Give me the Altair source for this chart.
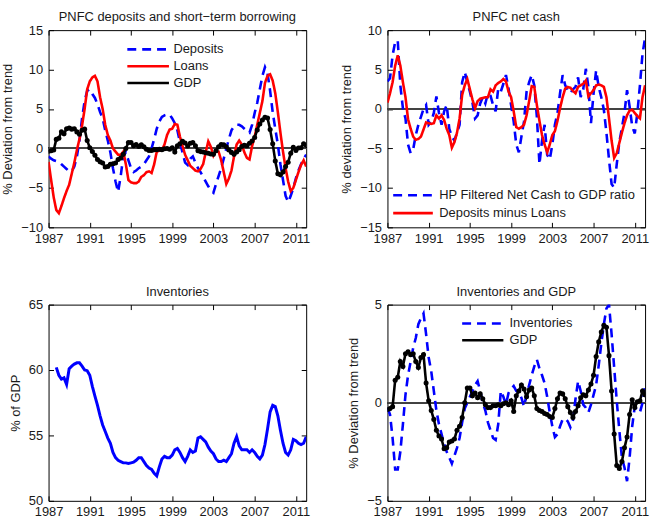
import altair as alt
import pandas as pd

# ---------------- data (quarterly, 1987Q1 .. 2012Q1) ----------------
quarter_years = [1987 + q / 4 for q in range(101)]
tick_years = [1987, 1991, 1995, 1999, 2003, 2007, 2011]

gdp_dev = [
    -0.35, -0.3, -0.2, 1.15,
    1.3, 2.1, 1.85, 2.5,
    2.6, 2.45, 2.5, 2.1,
    1.8, 2.3, 2.45, 1.0,
    0.1, -0.4, -0.85, -1.4,
    -1.7, -1.85, -2.35, -2.3,
    -2.0, -1.95, -1.85, -1.4,
    -1.2, -0.75, 0.0, 0.75,
    0.75, 0.35, 0.5, 0.25,
    0.45, 0.2, -0.1, -0.25,
    -0.25, -0.15, -0.15, -0.1,
    -0.15, -0.05, 0.0, -0.1,
    0.1, -0.45, 0.35, 0.6,
    0.9, 0.7, 0.3, 0.65,
    0.75, 0.35, -0.3, -0.4,
    -0.45, -0.55, -0.6, -0.7,
    -0.75, -0.3, 0.2, 0.5,
    0.45, 0.2, -0.2, -0.5,
    -0.75, -0.45, -0.15, 0.25,
    0.4, 0.35, 0.65, 0.95,
    1.4, 2.35, 3.1, 3.6,
    3.95, 3.85, 2.4, 0.6,
    -1.6, -3.2, -3.35, -3.0,
    -2.3, -1.75, -0.6, 0.15,
    -0.25, 0.05, 0.1, 0.6,
    0.4,
]

deposits_dev = [
    -1.0, -1.3, -1.5, -1.6,
    -1.7, -2.0, -2.3, -2.6,
    -2.9, -2.9, -2.3, -1.0,
    1.0, 3.8, 6.0, 7.3,
    7.5, 6.9, 6.4, 5.6,
    4.6, 3.8, 2.3, 1.0,
    -0.5, -2.5, -4.2, -5.5,
    -3.5, -1.0, -0.5, -1.5,
    -2.5, -3.0, -2.8, -2.5,
    -2.3, -2.0, -1.5, -1.0,
    0.0, 1.2, 2.5, 3.4,
    4.0, 4.2, 4.3, 4.3,
    3.8, 3.2, 2.3, 0.8,
    -0.5, -1.8, -2.1, -1.3,
    -1.0, -1.8, -2.5, -3.0,
    -3.6, -4.2, -4.8, -5.3,
    -5.6, -4.5, -3.5, -2.5,
    -1.3, 0.0, 1.2, 2.3,
    2.8, 3.0, 3.0, 2.8,
    2.5, 2.2, 2.0, 3.0,
    4.5, 5.8, 7.5, 9.2,
    10.3, 9.5, 7.3, 4.6,
    2.5, 0.5, -2.0, -4.0,
    -6.0, -6.8, -6.0, -5.0,
    -3.8, -2.8, -2.0, -1.3,
    -0.8,
]

loans_dev = [
    -1.7, -4.0, -6.2, -7.8,
    -8.2, -7.3, -6.3, -5.4,
    -4.6, -3.2, -1.8, -0.2,
    1.2, 2.9, 5.0, 7.5,
    8.5, 9.0, 9.2, 8.5,
    6.5, 5.0, 3.0, 1.7,
    1.0, 0.0, -0.4, -0.8,
    -0.8, -0.4, -2.0, -4.0,
    -4.3, -4.4, -4.4, -4.2,
    -3.6, -3.4, -3.0, -2.9,
    -3.1, -2.0, -0.4, -0.3,
    -0.2, 0.5, 1.7, 2.4,
    2.5, 3.1, 3.0, 1.5,
    0.3, -0.8, -1.5, -2.2,
    -2.5, -2.8, -2.9, -2.6,
    -2.0, -0.5, 0.9, 0.2,
    -0.9, -0.3, -0.4, -1.5,
    -3.0, -4.5, -3.8, -2.8,
    -1.0, 0.5, 1.0, 0.5,
    -0.5, -1.2, -1.4, 0.3,
    1.5, 3.0, 4.5, 6.0,
    8.3, 9.2, 9.4, 8.6,
    7.0, 4.6, 2.0, -0.4,
    -2.5, -4.2, -5.4, -5.0,
    -4.0, -3.0, -2.1, -1.5,
    -2.3,
]

net_cash_hp = [
    3.5, 3.9, 6.8, 8.5,
    8.7, 3.0, 0.1, -1.2,
    -4.5, -5.6, -5.1, -3.3,
    -2.0, -1.0, 0.0, 0.5,
    -2.0, -1.6, -0.5, 1.6,
    -0.5, -2.0, -0.3, 0.5,
    -2.5, -3.5, -4.0, -3.0,
    -2.0, 3.4, 4.7, 3.4,
    2.2, 0.8, -1.2, -0.8,
    0.7, 1.5, 0.7, 2.0,
    1.7, 0.5, -0.3, 2.6,
    2.2, 3.2, 4.3, 2.6,
    0.5, -1.6, -4.5, -5.5,
    -3.5, -1.6, 2.2, 3.4,
    4.3, 3.0, -1.0, -7.0,
    -4.0, -2.0, -5.8, -6.4,
    -4.5, -2.0, -0.5, 2.0,
    4.3, 3.0, 2.4, 2.0,
    2.5, 2.8, 4.0, 1.5,
    2.5, 5.1, 2.8, -1.8,
    2.0, 4.9, 2.8, 1.5,
    -0.1, -3.0, -6.4, -9.5,
    -10.0, -7.0, -4.2, -2.4,
    -0.5, 2.4, 0.3, -2.2,
    -3.1, -0.5, 3.0, 7.0,
    9.0,
]

deposits_minus_loans = [
    0.8, 2.0, 3.4, 5.5,
    6.8, 5.5, 3.4, 1.5,
    -1.3, -2.5, -3.5, -3.9,
    -3.8, -3.5, -2.6, -1.7,
    -1.8, -1.9, -1.8, -0.8,
    -1.2, -0.8, -1.4, -2.5,
    -3.3, -4.9, -4.2, -3.0,
    -1.2, 1.8, 3.0, 3.8,
    2.5, 1.2, 0.1, 1.0,
    1.3, 1.4, 1.5, 1.5,
    2.5, 2.2, 3.0, 3.3,
    3.5, 3.8, 3.5, 2.2,
    1.5, -0.3, -2.3, -2.5,
    -2.3, -2.0, -0.8, 1.0,
    2.9, 2.8, 0.5, -1.5,
    -3.3, -4.5, -5.5, -4.5,
    -3.3, -2.8, -1.5, 0.1,
    1.5, 2.6, 2.8, 2.7,
    2.3, 2.0, 2.8, 3.0,
    3.2, 3.6, 1.6, 2.0,
    2.4, 3.0, 3.1, 3.0,
    2.8, 1.5, -1.2, -4.0,
    -6.2, -5.6, -4.3, -3.0,
    -1.8, -0.8, -0.2, -0.1,
    -0.5, -0.9, -1.2, 1.5,
    3.0,
]

# inventories as % of GDP, from 1987Q4
inventories_pct_gdp = [
    60.2,
    59.6, 59.3, 59.4, 58.9,
    60.1, 60.3, 60.45, 60.55,
    60.55, 60.3, 60.0, 59.95,
    59.6, 58.75, 58.0, 57.3,
    56.5, 55.8, 55.3, 54.8,
    54.4, 53.7, 53.3, 53.1,
    53.0, 52.9, 52.9, 52.85,
    52.9, 52.95, 53.1, 53.3,
    53.3, 53.0, 52.7, 52.5,
    52.4, 52.1, 51.9, 52.6,
    53.2, 53.4, 53.3, 53.3,
    53.5, 53.9, 54.0, 53.7,
    53.3, 53.0, 53.4, 53.9,
    53.7, 53.8, 54.8, 54.9,
    54.7, 54.5, 54.1, 53.8,
    53.6, 53.2, 53.0, 53.0,
    53.1, 53.0, 53.3, 53.6,
    54.4, 54.9, 54.2, 53.9,
    53.9, 53.9, 53.7, 53.9,
    53.7, 53.4, 53.2, 53.5,
    54.3, 55.5, 56.8, 57.3,
    57.2, 56.5, 55.4, 54.4,
    53.7, 53.5, 53.9, 54.7,
    54.6, 54.4, 54.3, 54.4,
    54.9,
]

inventories_dev = [
    -0.25, -0.6, -1.8, -3.4,
    -3.4, -2.5, -1.1, 0.4,
    1.4, 2.1, 2.8, 3.3,
    4.0, 4.3, 4.55, 3.5,
    2.3, 1.6, 0.6, -0.4,
    -1.1, -1.6, -2.1, -2.5,
    -2.8, -3.1, -2.7, -2.3,
    -1.8, -1.0, -0.3, 0.0,
    0.3, 0.6, 0.9, 1.1,
    0.6, 0.0, -0.4, -1.0,
    -1.4, -1.8, -1.9, -1.1,
    0.6, 0.3, -0.1, 0.5,
    0.7, 0.85, 0.6, 0.5,
    0.25, -0.2, 0.4, 0.9,
    1.4, 1.85, 2.2, 1.75,
    1.4, 1.0, 0.3, -0.5,
    -1.2, -1.75, -1.6, -1.2,
    -0.85, -0.8, -0.95, -1.25,
    -0.9, 0.2, 1.1, 0.6,
    -0.1, -0.25, -0.5, -0.1,
    0.4, 0.9, 1.9, 3.0,
    4.0, 4.8, 5.0, 3.5,
    1.8, 0.1, -1.4, -2.8,
    -3.3, -4.0, -2.8, -1.2,
    -0.2, -0.4, -0.5, 0.0,
    0.9,
]

# ---------------- styling ----------------
FONT = "Liberation Sans"
TXT = "#1a1a1a"
BLUE = "#0000FF"
RED = "#FF0000"
BLACK = "#000000"
DASH = [9, 6]
W = 260

xscale = alt.Scale(domain=[1987, 2012], nice=False, zero=False)


def x_axis_main():
    return alt.Axis(orient="bottom", values=tick_years, format="d", title=None,
                    domain=False, grid=False, ticks=True, tickSize=5, offset=-5,
                    tickColor="black", labelPadding=5, labelFlush=False)


def y_axis_main(vals, title):
    return alt.Axis(orient="left", values=vals, format="d", title=title,
                    domain=False, grid=False, ticks=True, tickSize=5, offset=-5,
                    tickColor="black", labelPadding=6, titlePadding=6)


def frame_layer(df, yscale, yvals):
    return alt.Chart(df).mark_line(opacity=0).encode(
        x=alt.X("year:Q", scale=xscale,
                axis=alt.Axis(orient="top", values=tick_years, labels=False, title=None,
                              domain=False, grid=False, tickSize=5, offset=-5,
                              tickColor="black", minExtent=0)),
        y=alt.Y("value:Q", scale=yscale,
                axis=alt.Axis(orient="right", values=yvals, labels=False, title=None,
                              domain=False, grid=False, tickSize=5, offset=-5,
                              tickColor="black", minExtent=0)),
    )


def zero_rule(df):
    return alt.Chart(df).mark_rule(color="#444444", strokeWidth=1).encode(
        y=alt.YDatum(0, axis=None))


def legend(x, y, length, row_h, lab_off):
    return alt.Legend(orient="none", legendX=x, legendY=y, title=None,
                      symbolType="stroke", symbolSize=length * length,
                      symbolStrokeWidth=2.6, labelFontSize=13, labelFont=FONT,
                      labelColor=TXT, labelOffset=lab_off, padding=0, rowPadding=0,
                      clipHeight=row_h, labelLimit=400)


def title(text):
    return alt.TitleParams(text, fontSize=13, fontWeight="normal", font=FONT,
                           color=TXT, offset=0)


# ---------------- panel 1 ----------------
p1_names = ["Deposits", "Loans", "GDP"]
p1_df = pd.DataFrame({
    "year": quarter_years * 3,
    "value": deposits_dev + loans_dev + gdp_dev,
    "series": ["Deposits"] * 101 + ["Loans"] * 101 + ["GDP"] * 101,
})
y1 = alt.Scale(domain=[-10, 15], nice=False, zero=False)
y1_vals = [-10, -5, 0, 5, 10, 15]
leg1 = legend(78, 11.1, 42, 16.6, 3)
p1_lines = alt.Chart(p1_df).mark_line(strokeWidth=2.6, clip=True).encode(
    x=alt.X("year:Q", scale=xscale, axis=x_axis_main()),
    y=alt.Y("value:Q", scale=y1, axis=y_axis_main(y1_vals, "% Deviation from trend")),
    color=alt.Color("series:N", scale=alt.Scale(domain=p1_names, range=[BLUE, RED, BLACK]),
                    legend=leg1),
    strokeDash=alt.StrokeDash("series:N",
                              scale=alt.Scale(domain=p1_names, range=[DASH, [1, 0], [1, 0]]),
                              legend=leg1),
)
p1_pts = alt.Chart(p1_df).transform_filter("datum.series == 'GDP'").mark_circle(
    size=26, color=BLACK, opacity=1, clip=True).encode(
    x=alt.X("year:Q", scale=xscale, axis=None),
    y=alt.Y("value:Q", scale=y1, axis=None),
)
p1 = alt.layer(zero_rule(p1_df), p1_lines, p1_pts, frame_layer(p1_df, y1, y1_vals)).resolve_axis(
    x="independent", y="independent").properties(
    width=W, height=199, title=title("PNFC deposits and short\u2212term borrowing"))

# ---------------- panel 2 ----------------
p2_names = ["HP Filtered Net Cash to GDP ratio", "Deposits minus Loans"]
p2_df = pd.DataFrame({
    "year": quarter_years * 2,
    "value": net_cash_hp + deposits_minus_loans,
    "series": [p2_names[0]] * 101 + [p2_names[1]] * 101,
})
y2 = alt.Scale(domain=[-15, 10], nice=False, zero=False)
y2_vals = [-15, -10, -5, 0, 5, 10]
leg2 = legend(4.3, 157.8, 40, 17.7, 5)
p2_lines = alt.Chart(p2_df).mark_line(strokeWidth=2.6, clip=True).encode(
    x=alt.X("year:Q", scale=xscale, axis=x_axis_main()),
    y=alt.Y("value:Q", scale=y2, axis=y_axis_main(y2_vals, "% deviation from trend")),
    color=alt.Color("series:N", scale=alt.Scale(domain=p2_names, range=[BLUE, RED]),
                    legend=leg2),
    strokeDash=alt.StrokeDash("series:N",
                              scale=alt.Scale(domain=p2_names, range=[DASH, [1, 0]]),
                              legend=leg2),
)
p2 = alt.layer(zero_rule(p2_df), p2_lines, frame_layer(p2_df, y2, y2_vals)).resolve_axis(
    x="independent", y="independent").properties(
    width=W, height=199, title=title("PNFC net cash"))

# ---------------- panel 3 ----------------
p3_df = pd.DataFrame({"year": quarter_years[3:], "value": inventories_pct_gdp})
y3 = alt.Scale(domain=[50, 65], nice=False, zero=False)
y3_vals = [50, 55, 60, 65]
p3_line = alt.Chart(p3_df).mark_line(strokeWidth=3, color=BLUE, clip=True).encode(
    x=alt.X("year:Q", scale=xscale, axis=x_axis_main()),
    y=alt.Y("value:Q", scale=y3, axis=y_axis_main(y3_vals, "% of GDP")),
)
p3 = alt.layer(p3_line, frame_layer(p3_df, y3, y3_vals)).resolve_axis(
    x="independent", y="independent").properties(
    width=W, height=198, title=title("Inventories"))

# ---------------- panel 4 ----------------
p4_names = ["Inventories", "GDP"]
p4_df = pd.DataFrame({
    "year": quarter_years * 2,
    "value": inventories_dev + gdp_dev,
    "series": ["Inventories"] * 101 + ["GDP"] * 101,
})
y4 = alt.Scale(domain=[-5, 5], nice=False, zero=False)
y4_vals = [-5, 0, 5]
leg4 = legend(73.7, 10.65, 41.6, 16.7, 4.4)
p4_lines = alt.Chart(p4_df).mark_line(strokeWidth=2.6, clip=True).encode(
    x=alt.X("year:Q", scale=xscale, axis=x_axis_main()),
    y=alt.Y("value:Q", scale=y4, axis=y_axis_main(y4_vals, "% Deviation from trend")),
    color=alt.Color("series:N", scale=alt.Scale(domain=p4_names, range=[BLUE, BLACK]),
                    legend=leg4),
    strokeDash=alt.StrokeDash("series:N",
                              scale=alt.Scale(domain=p4_names, range=[DASH, [1, 0]]),
                              legend=leg4),
)
p4_pts = alt.Chart(p4_df).transform_filter("datum.series == 'GDP'").mark_circle(
    size=26, color=BLACK, opacity=1, clip=True).encode(
    x=alt.X("year:Q", scale=xscale, axis=None),
    y=alt.Y("value:Q", scale=y4, axis=None),
)
p4 = alt.layer(zero_rule(p4_df), p4_lines, p4_pts, frame_layer(p4_df, y4, y4_vals)).resolve_axis(
    x="independent", y="independent").properties(
    width=W, height=198, title=title("Inventories and GDP"))

# ---------------- assemble ----------------
chart = alt.concat(p1, p2, p3, p4, columns=2, spacing={"row": 78, "column": 82},
                   bounds="flush").resolve_scale(
    color="independent", strokeDash="independent", x="independent", y="independent"
).properties(
    padding={"left": 1, "top": 8, "right": 4, "bottom": 4}
).configure(background="white").configure_view(
    stroke="black", strokeWidth=1
).configure_axis(
    labelFont=FONT, titleFont=FONT, labelFontSize=13, titleFontSize=13,
    labelColor=TXT, titleColor=TXT, titleFontWeight="normal"
)

chart.save("out.html", embed_options={"renderer": "svg", "actions": False})
